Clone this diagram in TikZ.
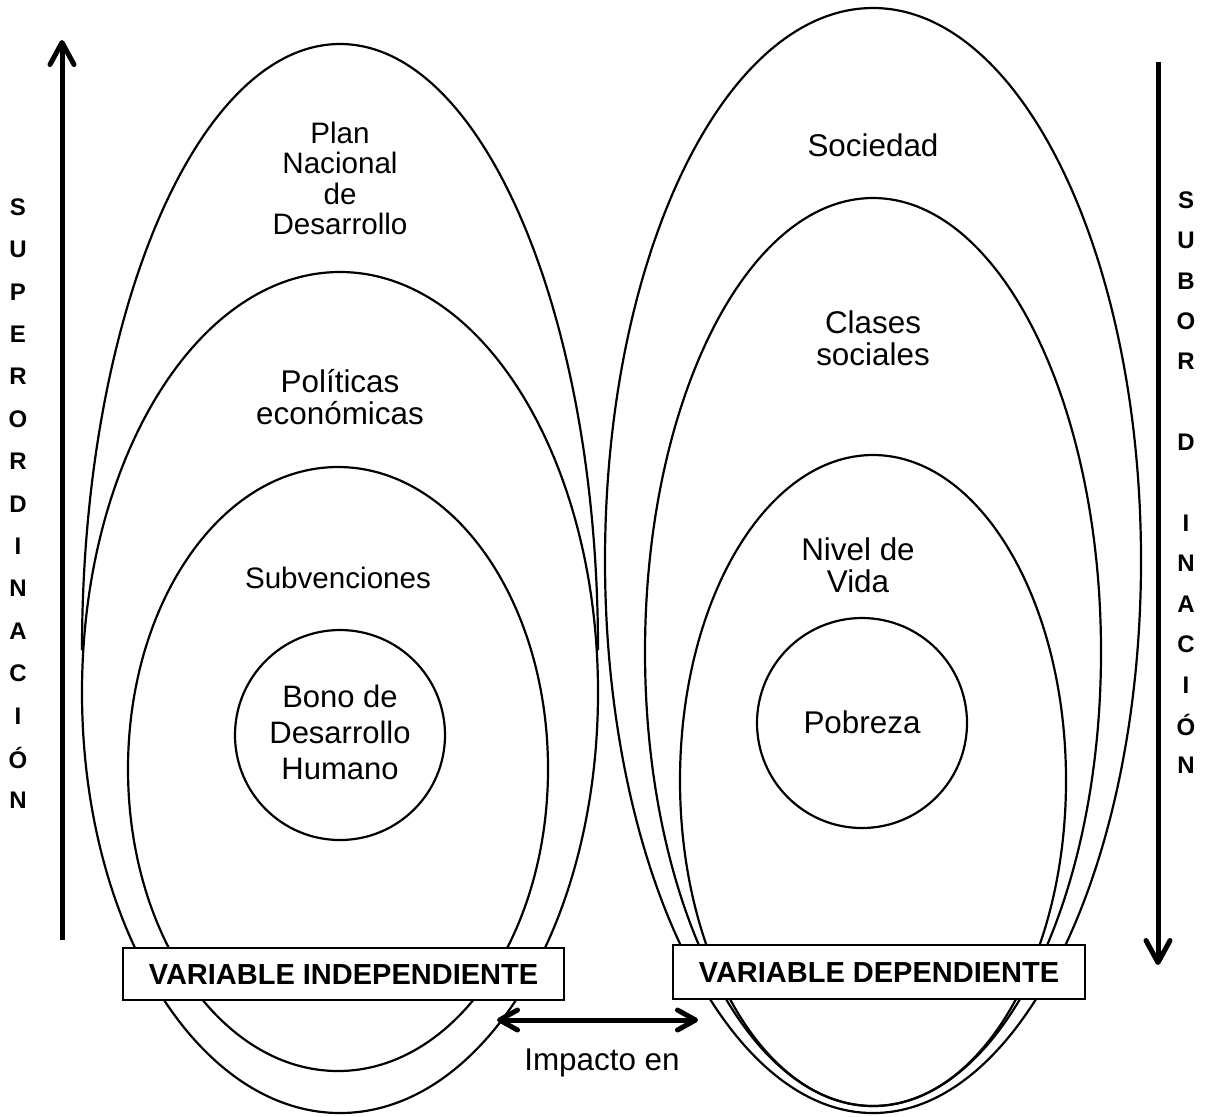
\documentclass[tikz,border=0pt]{standalone}
\usepackage{fontspec}
\setmainfont{Liberation Sans}
\usepackage{tikz}
\usetikzlibrary{arrows.meta}
\tikzset{
  oval/.style={draw=black, line width=1.1pt},
  lab/.style={font=\fontsize{15.7}{16}\selectfont, align=center, inner sep=0pt},
  labs/.style={font=\fontsize{14.8}{15.2}\selectfont, align=center, inner sep=0pt},
  labb/.style={font=\fontsize{15.5}{18}\selectfont, align=center, inner sep=0pt},
  tag/.style={draw=black, fill=white, line width=1pt, inner sep=0pt, font=\bfseries\fontsize{14.5}{17}\selectfont},
  vlet/.style={font=\bfseries\fontsize{12}{14}\selectfont, inner sep=0pt},
  bigarrow/.style={line width=2.5pt, -{Straight Barb[length=11pt,width=12pt,round]}},
  impact/.style={line width=2.5pt, {Straight Barb[length=9pt,width=10pt,round]}-{Straight Barb[length=9pt,width=10pt,round]}},
}

\begin{document}
\begin{tikzpicture}[x=0.5pt,y=-0.5pt]
  \useasboundingbox (0,0) rectangle (1208,1116);

  % independiente
  \draw[oval] (82,650) arc[start angle=180,end angle=360,x radius=258,y radius=606];
  \draw[oval] (340,692.5) ellipse[x radius=258,y radius=420.5];
  \draw[oval] (338,769) ellipse[x radius=210,y radius=302];
  \draw[oval] (340,735) circle[radius=105];

  % dependiente
  \draw[oval] (873,560.5) ellipse[x radius=268,y radius=552.5];
  \draw[oval] (873,652) ellipse[x radius=228,y radius=454];
  \draw[oval] (873,780.5) ellipse[x radius=193,y radius=325.5];
  \draw[oval] (862,723) circle[radius=105];

  \node[labs] (plan) at (340,178.5) {Plan\\Nacional\\de\\Desarrollo};
  \node[lab] (polit) at (340,397) {Políticas\\económicas};
  \node[labs] (subv) at (338,578) {Subvenciones};
  \node[labb] (bono) at (340,732) {Bono de\\Desarrollo\\Humano};

  \node[lab] (soc) at (873,145) {Sociedad};
  \node[lab] (clases) at (873,338) {Clases\\sociales};
  \node[lab] (nivel) at (858,565.5) {Nivel de\\Vida};
  \node[lab] (pobr) at (862,722) {Pobreza};

  \node[tag, minimum width=220.5pt, minimum height=26pt] (indep) at (343.5,974) {VARIABLE INDEPENDIENTE};
  \node[tag, minimum width=206pt, minimum height=27pt] (dep) at (879,972) {VARIABLE DEPENDIENTE};

  \coordinate (upS) at (62,940);
  \coordinate (upE) at (62,40);
  \draw[bigarrow] (upS) -- (upE);
  \coordinate (dnS) at (1158,62);
  \coordinate (dnE) at (1158,965);
  \draw[bigarrow] (dnS) -- (dnE);

  \coordinate (impL) at (497,1020);
  \coordinate (impR) at (698,1020);
  \draw[impact] (impL) -- (impR);
  \node[lab] (imp) at (602,1063) {Impacto en};

  \foreach \l [count=\i from 0] in {S,U,P,E,R,O,R,D,I,N,A,C,I,Ó,N}
    \node[vlet] (sup\i) at (18,{207+42.4*\i}) {\l};
  \foreach \l/\i in {S/0,U/1,B/2,O/3,R/4,D/6,I/8,N/9,A/10,C/11,I/12,Ó/13,N/14}
    \node[vlet] (sub\i) at (1186,{200+40.4*\i}) {\l};
\end{tikzpicture}
\end{document}
